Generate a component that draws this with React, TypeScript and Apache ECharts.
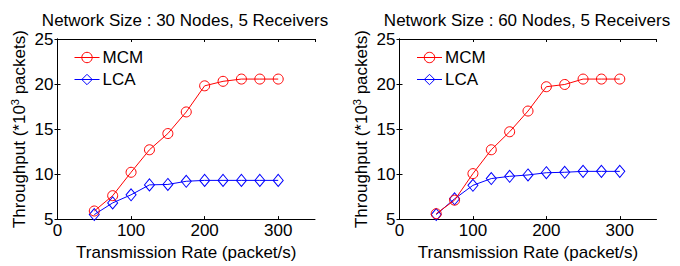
import React, { useEffect, useRef } from "react";
import * as echarts from "echarts";

const rates = [50, 75, 100, 125, 150, 175, 200, 225, 250, 275, 300];
const mcm30 = [5.9, 7.6, 10.2, 12.7, 14.5, 16.9, 19.8, 20.3, 20.55, 20.55, 20.55];
const lca30 = [5.5, 6.8, 7.7, 8.8, 8.85, 9.2, 9.3, 9.3, 9.3, 9.3, 9.3];
const mcm60 = [5.6, 7.1, 10.05, 12.7, 14.7, 17.0, 19.7, 19.95, 20.55, 20.55, 20.55];
const lca60 = [5.5, 7.25, 8.75, 9.5, 9.75, 9.9, 10.15, 10.2, 10.3, 10.3, 10.3];
const titles = ["Network Size : 30 Nodes, 5 Receivers", "Network Size : 60 Nodes, 5 Receivers"];
const seriesNames = ["MCM", "LCA"];
const xName = "Transmission Rate (packet/s)";

const FONT = "'Liberation Sans', Arial, Helvetica, sans-serif";
const FS = 17;
const RED = "#ff0000";
const BLUE = "#0000ff";
const COLORS = [RED, BLUE];

const pairs = (ys: number[]) => rates.map((x, i) => [x, ys[i]]);

export default function App() {
  const ref = useRef<HTMLDivElement>(null);
  useEffect(() => {
    if (!ref.current) return;
    const chart = echarts.init(ref.current, null, { renderer: "svg" });
    const grids = [
      { left: 57.5, right: 365, top: 39, bottom: 41 },
      { left: 399.5, right: 23.5, top: 39, bottom: 41 },
    ];
    const axisLine = { show: true, lineStyle: { color: "#000", width: 1 } };
    const tick = { show: true, inside: true, length: 3, lineStyle: { color: "#000" } };
    const xAxes: any[] = [];
    const yAxes: any[] = [];
    grids.forEach((_, g) => {
      xAxes.push({
        type: "value", gridIndex: g, min: 0, max: 350, interval: 100, position: "bottom",
        axisLine, axisTick: tick, splitLine: { show: false },
        axisLabel: { color: "#000", fontSize: FS, fontFamily: FONT, margin: 3, showMaxLabel: false },
        name: xName, nameLocation: "middle", nameGap: 18,
        nameTextStyle: { color: "#000", fontSize: FS, fontFamily: FONT },
      });
      xAxes.push({
        type: "value", gridIndex: g, min: 0, max: 350, interval: 100, position: "top",
        axisLine, axisTick: tick, splitLine: { show: false }, axisLabel: { show: false },
      });
      yAxes.push({
        type: "value", gridIndex: g, min: 5, max: 25, interval: 5, position: "left",
        axisLine, axisTick: tick, splitLine: { show: false },
        axisLabel: { color: "#000", fontSize: FS, fontFamily: FONT, margin: 4 },
        name: "Throughput (*10{sup|3} packets)", nameLocation: "middle", nameGap: 29,
        nameTextStyle: {
          color: "#000", fontSize: FS, fontFamily: FONT,
          rich: { sup: { fontSize: 11, fontFamily: FONT, color: "#000", verticalAlign: "bottom", padding: [0, 0, 8, 0] } },
        },
      });
      yAxes.push({
        type: "value", gridIndex: g, min: 5, max: 25, interval: 5, position: "right",
        axisLine, axisTick: tick, splitLine: { show: false }, axisLabel: { show: false },
      });
    });
    const datasets = [
      [mcm30, lca30],
      [mcm60, lca60],
    ];
    const series: any[] = [];
    datasets.forEach((pair, g) => {
      pair.forEach((ys, k) => {
        const color = COLORS[k];
        series.push({
          type: "line", name: seriesNames[k], xAxisIndex: g * 2, yAxisIndex: g * 2,
          data: pairs(ys),
          symbol: k === 0 ? "circle" : "diamond",
          symbolSize: k === 0 ? 10 : [10, 12],
          showAllSymbol: true,
          lineStyle: { color, width: 1 },
          itemStyle: { color: "none", borderColor: color, borderWidth: 1 },
          emphasis: { disabled: true },
          z: k === 0 ? 3 : 2,
        });
      });
    });
    chart.setOption({
      animation: false,
      title: titles.map((t, i) => ({
        text: t, left: i === 0 ? 180 : 522, top: 7, textAlign: "center",
        textStyle: { color: "#000", fontSize: FS, fontWeight: "normal", fontFamily: FONT },
      })),
      legend: grids.map((g, i) => ({
        data: seriesNames.map((n, k) => ({
          name: n,
          itemStyle: { color: "none", borderColor: COLORS[k], borderWidth: 1 },
          lineStyle: { color: COLORS[k], width: 1 },
        })),
        orient: "vertical", left: i === 0 ? 74 : 416.5, top: 49, padding: 0,
        itemWidth: 25, itemHeight: 13, itemGap: 5,
        textStyle: { color: "#000", fontSize: FS, fontFamily: FONT, padding: [0, 0, 0, -2] },
        selectedMode: false,
      })),
      grid: grids,
      xAxis: xAxes,
      yAxis: yAxes,
      series,
    });
    return () => chart.dispose();
  }, []);
  return <div ref={ref} style={{ position: "absolute", left: 0, top: 0, width: 680, height: 266, background: "#fff" }} />;
}
